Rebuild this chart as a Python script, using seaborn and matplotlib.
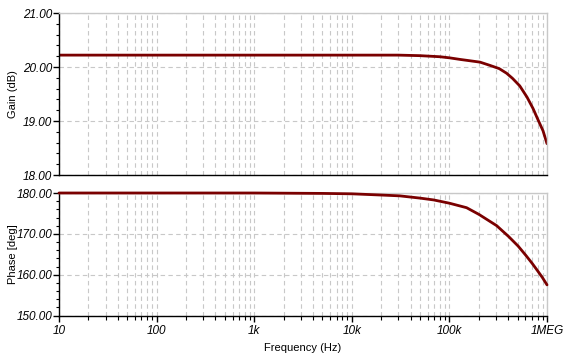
import numpy as np
import pandas as pd
import matplotlib
matplotlib.use("Agg")
import matplotlib.pyplot as plt
import matplotlib.ticker as mticker
import seaborn as sns

gain_freq = [10, 100, 1e3, 1e4, 3e4, 5e4, 8e4, 1e5, 1.29e5, 2.06e5, 2.6e5, 3.24e5, 3.85e5,
             4.43e5, 5.26e5, 6.25e5, 7.2e5, 8.1e5, 9.1e5, 1e6]
gain_db = [20.22, 20.22, 20.22, 20.22, 20.22, 20.21, 20.19, 20.17, 20.14, 20.09, 20.03, 19.97, 19.885,
           19.79, 19.65, 19.44, 19.23, 19.02, 18.82, 18.58]

phase_freq = [10, 100, 1e3, 5e3, 1e4, 2e4, 3.1e4, 5e4, 6.9e4, 1e5, 1.5e5, 2.01e5, 3.05e5, 4.06e5,
              5.06e5, 6.06e5, 7.03e5, 7.98e5, 8.97e5, 1e6]
phase_deg = [180.0, 180.0, 180.0, 179.9, 179.8, 179.5, 179.3, 178.75, 178.3, 177.5, 176.4, 174.75, 172.0, 169.3,
             167.0, 164.75, 162.8, 161.0, 159.3, 157.5]

x_ticks = [10, 100, 1e3, 1e4, 1e5, 1e6]
x_labels = ["10", "100", "1k", "10k", "100k", "1MEG"]
gain_ticks = [18.0, 19.0, 20.0, 21.0]
phase_ticks = [150.0, 160.0, 170.0, 180.0]

df_gain = pd.DataFrame({"freq": gain_freq, "gain": gain_db})
df_phase = pd.DataFrame({"freq": phase_freq, "phase": phase_deg})

sns.set_style("white")
plt.rcParams["font.family"] = ["Liberation Sans", "DejaVu Sans"]
plt.rcParams["text.color"] = "black"
plt.rcParams["axes.labelcolor"] = "black"
plt.rcParams["xtick.color"] = "black"
plt.rcParams["ytick.color"] = "black"

fig = plt.figure(figsize=(5.73, 3.62), dpi=100)
W, H = 573, 362
ax1 = fig.add_axes([59 / W, 1 - 175 / H, 488 / W, 162 / H])
ax2 = fig.add_axes([59 / W, 1 - 315.5 / H, 488 / W, 122.5 / H])

line_color = "#7a0000"
grid_color = "#c8c8c8"

sns.lineplot(data=df_gain, x="freq", y="gain", ax=ax1, color=line_color, linewidth=2)
sns.lineplot(data=df_phase, x="freq", y="phase", ax=ax2, color=line_color, linewidth=2)
for ln in ax2.lines:
    ln.set_clip_on(False)
    ln.set_zorder(5)

for ax, yt, ylab in [(ax1, gain_ticks, "Gain (dB)"), (ax2, phase_ticks, "Phase [deg]")]:
    ax.set_xscale("log")
    ax.set_xlim(10, 1e6)
    ax.set_ylim(yt[0], yt[-1])
    ax.set_yticks(yt)
    ax.set_yticklabels([f"{v:.2f}" for v in yt], fontstyle="italic", fontsize=8.5, color="black")
    ax.yaxis.set_minor_locator(mticker.AutoMinorLocator(5))
    ax.set_xticks(x_ticks)
    ax.xaxis.set_minor_locator(mticker.LogLocator(base=10, subs=np.arange(2, 10)))
    ax.xaxis.set_minor_formatter(mticker.NullFormatter())
    ax.grid(True, which="major", axis="y", color=grid_color, linestyle=(0, (4, 3)), linewidth=0.8)
    ax.grid(True, which="both", axis="x", color=grid_color, linestyle=(0, (4, 3)), linewidth=0.8)
    ax.set_ylabel(ylab, fontsize=8, color="black")
    ax.yaxis.set_label_coords(-0.083, 0.5)
    for s in ["top", "right"]:
        ax.spines[s].set_color(grid_color)
        ax.spines[s].set_linewidth(1)
    for s in ["left", "bottom"]:
        ax.spines[s].set_color("black")
        ax.spines[s].set_linewidth(1)
    ax.tick_params(axis="y", which="major", direction="out", length=4, width=1, color="black", left=True, pad=1)
    ax.tick_params(axis="y", which="minor", direction="out", length=2.5, width=0.8, color="black", left=True)

ax1.set_xlabel("")
ax1.tick_params(axis="x", which="both", bottom=False, labelbottom=False)

ax2.set_xticklabels(x_labels, fontstyle="italic", fontsize=8.5, color="black")
ax2.tick_params(axis="x", which="major", direction="out", length=4, width=1, color="black", bottom=True, pad=3)
ax2.tick_params(axis="x", which="minor", direction="out", length=3, width=0.8, color="black", bottom=True)
ax2.set_xlabel("Frequency (Hz)", fontsize=8, color="black")

fig.savefig("out.png", dpi=100)
